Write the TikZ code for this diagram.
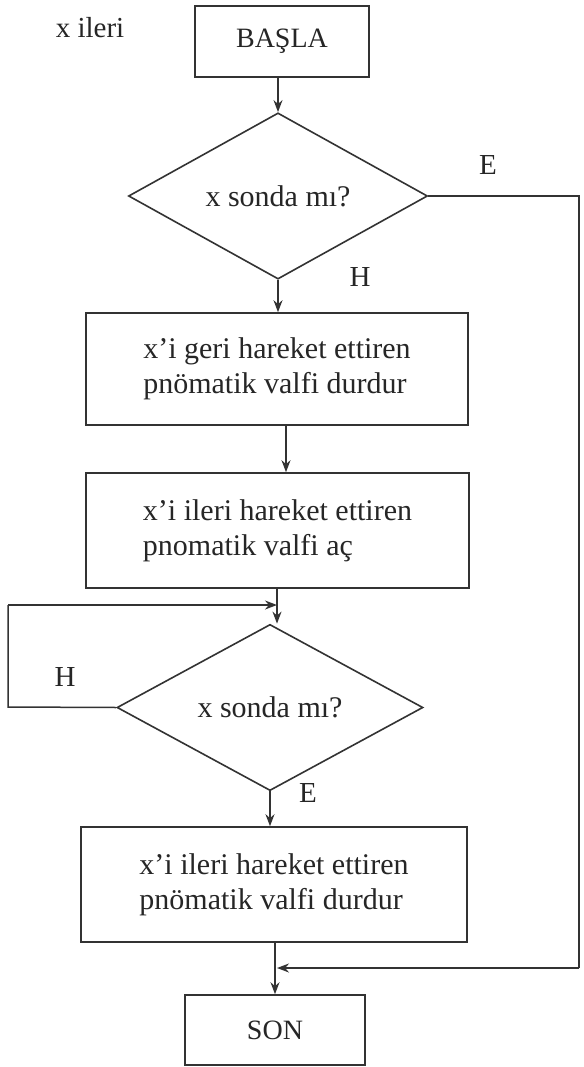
\documentclass[tikz,border=0pt]{standalone}
\usepackage{fontspec}
\setmainfont{Liberation Serif}
\usetikzlibrary{shapes.geometric,arrows.meta}
\begin{document}
\begin{tikzpicture}[x=1pt,y=-1pt,
  box/.style={draw=black!80, line width=1.6pt, inner sep=0pt, text=black!85,
    font=\fontsize{30}{35}\selectfont, align=left},
  dia/.style={diamond, draw=black!80, line width=1.6pt, inner sep=0pt, text=black!85,
    font=\fontsize{30}{35}\selectfont},
  ln/.style={draw=black!80, line width=1.5pt},
  arr/.style={ln, -{Stealth[length=12pt,width=9pt]}},
  lbl/.style={text=black!85, inner sep=0pt, font=\fontsize{29}{34}\selectfont}]
\useasboundingbox (0,0) rectangle (583,1067);
\fill[white] (0,0) rectangle (583,1067);

\node[lbl] (title) at (90,28) {x ileri};
\node[box, minimum width=174pt, minimum height=71pt, font=\fontsize{28}{33}\selectfont] (start) at (282,41.5) {BAŞLA};
\node[dia, minimum width=299pt, minimum height=137pt] (d1) at (278,196) {x sonda mı?};
\node[box, minimum width=382pt, minimum height=112pt] (b2) at (277,369) {x’i geri hareket ettiren\\pnömatik valfi durdur};
\node[box, minimum width=383pt, minimum height=115pt] (b3) at (277.5,530.5) {x’i ileri hareket ettiren\\pnomatik valfi aç};
\node[dia, minimum width=306pt, minimum height=131pt] (d2) at (270,707.5) {x sonda mı?};
\node[box, minimum width=386pt, minimum height=115pt] (b4) at (274,884.5) {x’i ileri hareket ettiren\\pnömatik valfi durdur};
\node[box, minimum width=180pt, minimum height=70pt, font=\fontsize{28}{33}\selectfont] (son) at (275,1030) {SON};

\node[lbl] (lE1) at (488,165) {E};
\node[lbl] (lH1) at (360,277) {H};
\node[lbl] (lH2) at (65,677) {H};
\node[lbl] (lE2) at (308,793) {E};

\coordinate (c23) at (286,450);
\coordinate (j1) at (277,605);
\coordinate (j2) at (277,968);
\coordinate (r1) at (579,200);
\coordinate (r2) at (579,968);
\coordinate (l1) at (8,707);
\coordinate (l2) at (8,605);

\draw[arr] (start.south -| d1.north) -- (d1.north);
\draw[arr] (d1.south) -- (d1.south |- b2.north);
\draw[arr] (b2.south -| c23) -- (b3.north -| c23);
\draw[arr] (b3.south -| j1) -- (d2.north -| j1);
\draw[ln] (d2.west) -- (l1) -- (l2);
\draw[arr] (l2) -- (j1);
\draw[arr] (d2.south) -- (d2.south |- b4.north);
\draw[arr] (b4.south -| son.north) -- (son.north);
\draw[ln] (d1.east) -- (d1.east -| r1) -- (r2);
\draw[arr] (r2) -- (j2);
\end{tikzpicture}
\end{document}
